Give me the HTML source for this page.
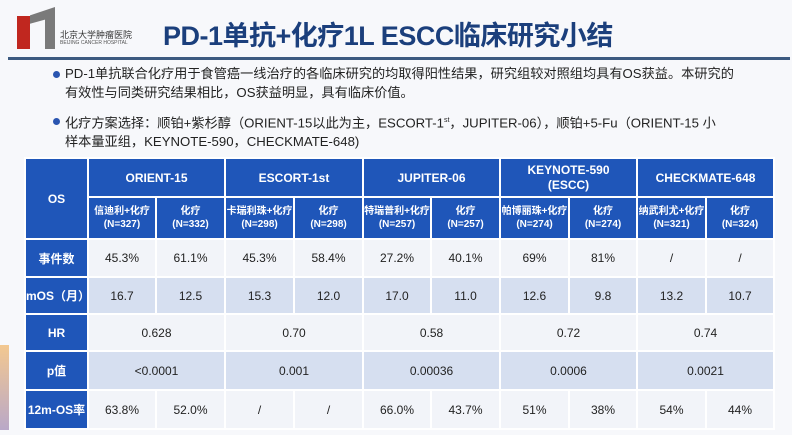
<!DOCTYPE html>
<html><head><meta charset="utf-8">
<style>
*{margin:0;padding:0;box-sizing:border-box}
body{width:792px;height:435px;overflow:hidden;background:#f7f8fb;font-family:"Liberation Sans","Noto Sans CJK SC",sans-serif;position:relative}
.abs{position:absolute}
#title{left:163px;top:14px;font-size:27px;font-weight:bold;color:#1b3f7c;letter-spacing:-0.5px;white-space:nowrap}
#rule{left:8px;top:57px;width:782px;height:3px;background:#3c5a80}
.txt{font-size:13.2px;color:#222;white-space:nowrap;line-height:19px}
.dot{width:7px;height:7px;border-radius:50%;background:#2a55b0}
table{position:absolute;left:24px;top:157px;width:749px;border-collapse:collapse;table-layout:fixed;font-size:12px;text-align:center}
td{border:2px solid #fff;padding:0;color:#222}
.h{background:#1f56b9;color:#fff;font-weight:bold}
.h2{background:#1f56b9;color:#fff;font-size:10px;font-weight:bold;line-height:13px}
.w td{background:#f2f4f9}
.b td{background:#d6dff0}
td.l{background:#1f56b9 !important;color:#fff;font-weight:bold}
</style></head><body>
<div class="abs" style="left:17px;top:16px;width:13px;height:33px;background:#c0271f"></div>
<div class="abs" style="left:30px;top:7px;width:25px;height:42px;background:#7a7a7a;clip-path:polygon(0 20%,100% 0,100% 100%,60% 100%,60% 30%,0 40%)"></div>
<div class="abs" style="left:60px;top:28px;font-size:9px;color:#333;white-space:nowrap">北京大学肿瘤医院</div>
<div class="abs" style="left:60px;top:40px;font-size:5px;color:#555;white-space:nowrap">BEIJING CANCER HOSPITAL</div>
<div class="abs" id="title">PD-1单抗+化疗1L ESCC临床研究小结</div>
<div class="abs" id="rule"></div>
<div class="abs dot" style="left:53px;top:71px"></div>
<div class="abs txt" style="left:65px;top:64px">PD-1单抗联合化疗用于食管癌一线治疗的各临床研究的均取得阳性结果，研究组较对照组均具有OS获益。本研究的<br>有效性与同类研究结果相比，OS获益明显，具有临床价值。</div>
<div class="abs dot" style="left:53px;top:118px"></div>
<div class="abs txt" style="left:65px;top:111px">化疗方案选择：顺铂+紫杉醇（ORIENT-15以此为主，ESCORT-1<sup style="font-size:7px">st</sup>，JUPITER-06），顺铂+5-Fu（ORIENT-15 小<br>样本量亚组，KEYNOTE-590，CHECKMATE-648)</div>
<div class="abs" style="left:0;top:345px;width:9px;height:85px;background:linear-gradient(#f3c890,#b9a8c8)"></div>
<table>
<colgroup><col style="width:63px"><col style="width:68px"><col style="width:69px"><col style="width:69px"><col style="width:69px"><col style="width:68px"><col style="width:69px"><col style="width:69px"><col style="width:68px"><col style="width:69px"><col style="width:68px"></colgroup>
<tr style="height:39px"><td class="h" rowspan="2">OS</td>
<td class="h" colspan="2">ORIENT-15</td>
<td class="h" colspan="2">ESCORT-1st</td>
<td class="h" colspan="2">JUPITER-06</td>
<td class="h" colspan="2" style="line-height:15px">KEYNOTE-590<br>(ESCC)</td>
<td class="h" colspan="2">CHECKMATE-648</td></tr>
<tr style="height:42px">
<td class="h2">信迪利+化疗<br>(N=327)</td><td class="h2">化疗<br>(N=332)</td>
<td class="h2">卡瑞利珠+化疗<br>(N=298)</td><td class="h2">化疗<br>(N=298)</td>
<td class="h2">特瑞普利+化疗<br>(N=257)</td><td class="h2">化疗<br>(N=257)</td>
<td class="h2">帕博丽珠+化疗<br>(N=274)</td><td class="h2">化疗<br>(N=274)</td>
<td class="h2">纳武利尤+化疗<br>(N=321)</td><td class="h2">化疗<br>(N=324)</td></tr>
<tr class="w" style="height:38px"><td class="l">事件数</td><td>45.3%</td><td>61.1%</td><td>45.3%</td><td>58.4%</td><td>27.2%</td><td>40.1%</td><td>69%</td><td>81%</td><td>/</td><td>/</td></tr>
<tr class="b" style="height:37px"><td class="l">mOS（月）</td><td>16.7</td><td>12.5</td><td>15.3</td><td>12.0</td><td>17.0</td><td>11.0</td><td>12.6</td><td>9.8</td><td>13.2</td><td>10.7</td></tr>
<tr class="w" style="height:37px"><td class="l">HR</td><td colspan="2">0.628</td><td colspan="2">0.70</td><td colspan="2">0.58</td><td colspan="2">0.72</td><td colspan="2">0.74</td></tr>
<tr class="b" style="height:39px"><td class="l">p值</td><td colspan="2">&lt;0.0001</td><td colspan="2">0.001</td><td colspan="2">0.00036</td><td colspan="2">0.0006</td><td colspan="2">0.0021</td></tr>
<tr class="w" style="height:39px"><td class="l">12m-OS率</td><td>63.8%</td><td>52.0%</td><td>/</td><td>/</td><td>66.0%</td><td>43.7%</td><td>51%</td><td>38%</td><td>54%</td><td>44%</td></tr>
</table>
</body></html>
